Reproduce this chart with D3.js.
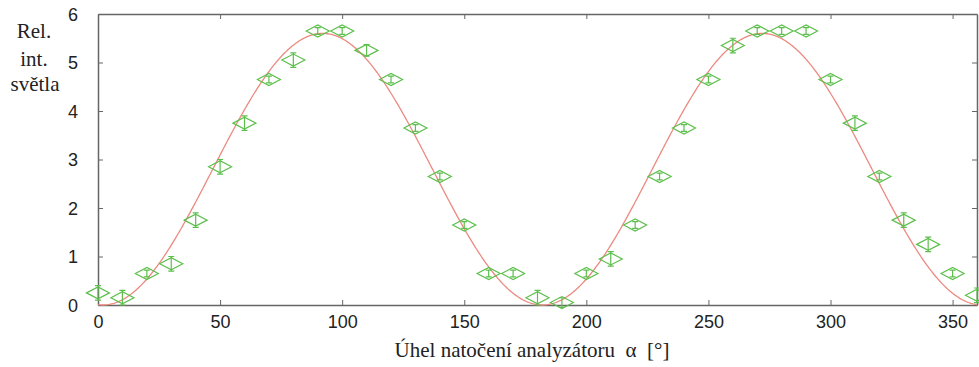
<!DOCTYPE html>
<html>
<head>
<meta charset="utf-8">
<script src="https://cdn.jsdelivr.net/npm/d3@7"></script>
<style>
  body { margin: 0; background: #fff; }
  svg { display: block; }
  .tick text { font-family: "Liberation Sans", Arial, sans-serif; font-size: 18px; fill: #222; }
  .label { font-family: "Liberation Serif", "Times New Roman", serif; font-size: 21px; fill: #222; }
</style>
</head>
<body>
<div id="chart"></div>
<script>
// measured points
const angles = d3.range(0, 361, 10);
const intensity = [
  0.25, 0.15, 0.65, 0.85, 1.75, 2.85, 3.75, 4.65, 5.05, 5.65,
  5.65, 5.25, 4.65, 3.65, 2.65, 1.65, 0.65, 0.65, 0.15, 0.05,
  0.65, 0.95, 1.65, 2.65, 3.65, 4.65, 5.35, 5.65, 5.65, 5.65,
  4.65, 3.75, 2.65, 1.75, 1.25, 0.65, 0.2
];
const errors = [
  0.15, 0.15, 0.07, 0.15, 0.15, 0.15, 0.15, 0.07, 0.15, 0.07,
  0.07, 0.12, 0.07, 0.07, 0.07, 0.07, 0.07, 0.07, 0.15, 0.1,
  0.07, 0.15, 0.07, 0.07, 0.07, 0.07, 0.15, 0.07, 0.07, 0.07,
  0.07, 0.15, 0.07, 0.15, 0.15, 0.07, 0.15
];
// Malus fit I = I0 cos^2(alpha - phi)
const fitAmplitude = 5.6;
const fitPhase = 92;

const xTicks = [0, 50, 100, 150, 200, 250, 300, 350];
const yTicks = [0, 1, 2, 3, 4, 5, 6];

const width = 979;
const height = 367;
const margin = { top: 14, right: 2, bottom: 62, left: 98 };

const x = d3.scaleLinear().domain([0, 360]).range([margin.left, width - margin.right]);
const y = d3.scaleLinear().domain([0, 6]).range([height - margin.bottom, margin.top]);

const svg = d3.select("#chart").append("svg")
  .attr("width", width)
  .attr("height", height);

const frame = "#666";

// axes with inward ticks
const gx = svg.append("g")
  .attr("transform", `translate(0,${y(0)})`)
  .call(d3.axisBottom(x).tickValues(xTicks).tickSizeInner(-5).tickSizeOuter(0).tickPadding(10));
const gxTop = svg.append("g")
  .attr("transform", `translate(0,${y(6)})`)
  .call(d3.axisTop(x).tickValues(xTicks).tickSizeInner(-5).tickSizeOuter(0).tickFormat(""));
const gy = svg.append("g")
  .attr("transform", `translate(${x(0)},0)`)
  .call(d3.axisLeft(y).tickValues(yTicks).tickFormat(d3.format("d")).tickSizeInner(-5).tickSizeOuter(0).tickPadding(20));
const gyRight = svg.append("g")
  .attr("transform", `translate(${x(360)},0)`)
  .call(d3.axisRight(y).tickValues(yTicks).tickSizeInner(-5).tickSizeOuter(0).tickFormat(""));

[gx, gxTop, gy, gyRight].forEach((g) => {
  g.select(".domain").attr("stroke", frame).attr("stroke-width", 1.5);
  g.selectAll(".tick line").attr("stroke", frame);
});
gx.selectAll(".tick text").attr("dy", "0.71em");
gy.selectAll(".tick text").attr("dy", "0.36em");

// fitted curve
const curveX = d3.range(0, 360.5, 0.5);
const line = d3.line()
  .x((a) => x(a))
  .y((a) => y(fitAmplitude * Math.cos((a - fitPhase) * Math.PI / 180) ** 2));
svg.append("path")
  .datum(curveX)
  .attr("fill", "none")
  .attr("stroke", "#ec8a80")
  .attr("stroke-width", 1.3)
  .attr("d", line);

// points with error bars
const green = "#5cbf4c";
const data = angles.map((a, i) => ({ a, v: intensity[i], e: errors[i] }));
const pt = svg.append("g")
  .attr("fill", "none")
  .attr("stroke", green)
  .attr("stroke-width", 1.2)
  .selectAll("g")
  .data(data)
  .join("g")
  .attr("transform", (d) => `translate(${x(d.a)},${y(d.v)})`);

const hw = 11.5, hh = 6;
pt.append("path").attr("d", `M${-hw},0L0,${-hh}L${hw},0L0,${hh}Z`);
pt.append("path").attr("d", (d) => {
  const t = y(d.v + d.e) - y(d.v);
  const b = y(d.v - d.e) - y(d.v);
  return `M0,${t}V${b}M-3,${t}H3M-3,${b}H3`;
});

// labels
const yl = svg.append("text").attr("class", "label").attr("text-anchor", "middle");
yl.append("tspan").attr("x", 34).attr("y", 38).text("Rel.");
yl.append("tspan").attr("x", 34).attr("y", 66).text("int.");
yl.append("tspan").attr("x", 35).attr("y", 91).text("světla");

svg.append("text")
  .attr("class", "label")
  .attr("x", 532)
  .attr("y", 357)
  .attr("text-anchor", "middle")
  .attr("xml:space", "preserve")
  .text("Úhel natočení analyzátoru  α  [°]");
</script>
</body>
</html>
